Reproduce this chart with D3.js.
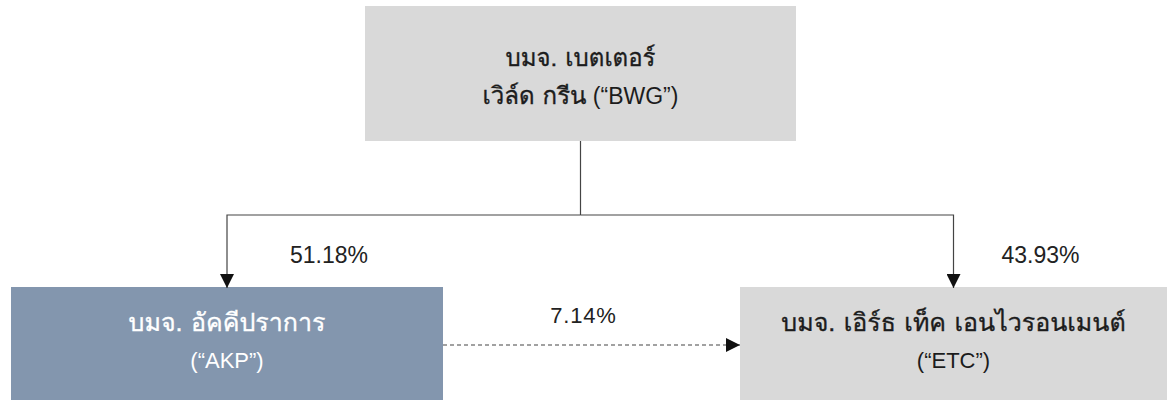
<!DOCTYPE html>
<html>
<head>
<meta charset="utf-8">
<script src="https://cdn.jsdelivr.net/npm/d3@7"></script>
<style>
  html, body { margin: 0; padding: 0; background: #ffffff; }
  svg { display: block; }
  text { font-family: "Liberation Sans", Arial, sans-serif; }
  tspan.th { font-family: "Loma", "Garuda", "Noto Sans Thai Looped", "Tahoma", "Noto Sans Thai", sans-serif; }
</style>
</head>
<body>
<div id="chart"></div>
<script>
// ---- data ----
const companyIds = ["BWG", "AKP", "ETC"];
const companyLine1 = ["บมจ. เบตเตอร์", "บมจ. อัคคีปราการ", "บมจ. เอิร์ธ เท็ค เอนไวรอนเมนต์"];
const companyLine2 = ["เวิล์ด กรีน (“BWG”)", "(“AKP”)", "(“ETC”)"];
const linkSources = ["BWG", "BWG", "AKP"];
const linkTargets = ["AKP", "ETC", "ETC"];
const linkShares = ["51.18%", "43.93%", "7.14%"];

(function () {
const W = 1175, H = 400;
const svg = d3.select("#chart").append("svg").attr("width", W).attr("height", H);

const boxGeom = {
  BWG: { x0: 365, x1: 796, y0: 6, y1: 141, fill: "#d9d9d9", color: "#1c1c1c", th: 24, lat: 23, ys: [66, 104] },
  AKP: { x0: 11, x1: 443, y0: 287, y1: 400, fill: "#8396ae", color: "#ffffff", th: 25, lat: 22, ys: [331, 368] },
  ETC: { x0: 740, x1: 1167, y0: 287, y1: 400, fill: "#d9d9d9", color: "#1c1c1c", th: 25, lat: 22, ys: [331, 368] }
};
const labelDx = { AKP: 102, ETC: 87 };

const nodes = companyIds.map((id, i) => Object.assign({ id, l1: companyLine1[i], l2: companyLine2[i] }, boxGeom[id]));
const byId = Object.fromEntries(nodes.map(n => [n.id, n]));

const defs = svg.append("defs");
defs.append("marker")
  .attr("id", "arrow")
  .attr("viewBox", "0 0 10 10")
  .attr("refX", 10).attr("refY", 5)
  .attr("markerWidth", 14).attr("markerHeight", 14)
  .attr("markerUnits", "userSpaceOnUse")
  .attr("orient", "auto")
  .append("path").attr("d", "M0,0L10,5L0,10Z").attr("fill", "#111");

const g = svg.append("g");
g.selectAll("rect.box").data(nodes).join("rect")
  .attr("class", "box")
  .attr("x", d => d.x0).attr("y", d => d.y0)
  .attr("width", d => d.x1 - d.x0).attr("height", d => d.y1 - d.y0)
  .attr("fill", d => d.fill);

// split into Thai / non-Thai runs
function runs(s) {
  const out = [];
  const re = /([\u0E00-\u0E7F]+(?:[ .]+[\u0E00-\u0E7F]+)*)|([^\u0E00-\u0E7F]+)/g;
  let m;
  while ((m = re.exec(s)) !== null) out.push({ t: m[0], th: !!m[1] });
  return out;
}

nodes.forEach(n => {
  const cx = (n.x0 + n.x1) / 2;
  [n.l1, n.l2].forEach((t, k) => {
    const txt = g.append("text")
      .attr("x", cx).attr("y", n.ys[k])
      .attr("text-anchor", "middle")
      .attr("fill", n.color)
      .attr("xml:space", "preserve");
    txt.selectAll("tspan").data(runs(t)).join("tspan")
      .attr("class", d => d.th ? "th" : "lat")
      .attr("font-size", d => d.th ? n.th : n.lat)
      .attr("stroke", d => d.th ? n.color : null)
      .attr("stroke-width", d => d.th ? 0.35 : null)
      .text(d => d.t);
  });
});

const links = linkSources.map((s, i) => ({ s: byId[s], t: byId[linkTargets[i]], share: linkShares[i] }));
const busY = 215;
const lg = svg.append("g");

const root = byId.BWG;
const stemX = (root.x0 + root.x1) / 2;
lg.append("line").attr("x1", stemX).attr("x2", stemX).attr("y1", root.y1).attr("y2", busY)
  .attr("stroke", "#444").attr("stroke-width", 1.2);

links.forEach(l => {
  if (l.s.id === "BWG") {
    const tx = (l.t.x0 + l.t.x1) / 2;
    lg.append("path")
      .attr("d", d3.line()([[stemX, busY], [tx, busY], [tx, l.t.y0 + 1]]))
      .attr("fill", "none").attr("stroke", "#444").attr("stroke-width", 1.2)
      .attr("marker-end", "url(#arrow)");
    lg.append("text")
      .attr("x", tx + labelDx[l.t.id]).attr("y", 263)
      .attr("text-anchor", "middle")
      .attr("font-size", 23)
      .attr("fill", "#222")
      .text(l.share);
  } else {
    const yy = 345;
    lg.append("line")
      .attr("x1", l.s.x1).attr("x2", l.t.x0).attr("y1", yy).attr("y2", yy)
      .attr("stroke", "#444").attr("stroke-width", 1.2)
      .attr("stroke-dasharray", "4,3")
      .attr("marker-end", "url(#arrow)");
    lg.append("text")
      .attr("x", (l.s.x1 + l.t.x0) / 2 - 8).attr("y", 323)
      .attr("text-anchor", "middle")
      .attr("font-size", 22)
      .attr("letter-spacing", 0.8)
      .attr("fill", "#222")
      .text(l.share);
  }
});
})();
</script>
</body>
</html>
